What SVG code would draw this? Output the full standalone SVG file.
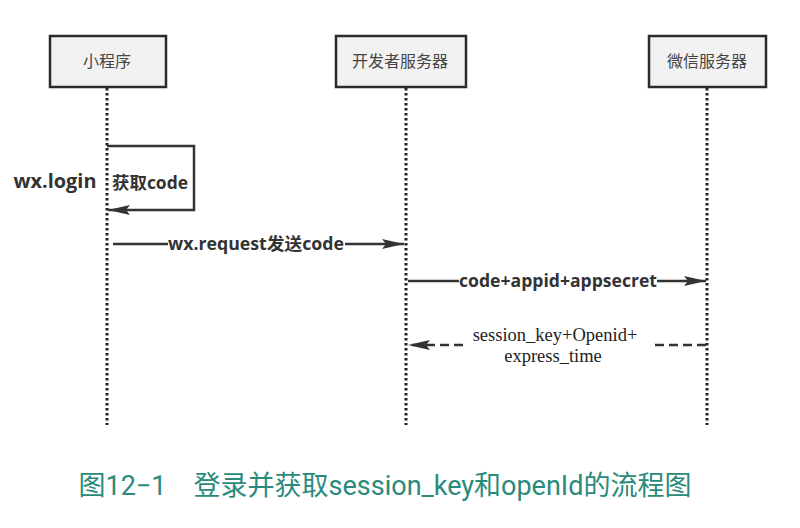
<svg xmlns="http://www.w3.org/2000/svg" width="800" height="528" viewBox="0 0 800 528">
<style>
.box{fill:#f2f2f2;stroke:#2b2b2b;stroke-width:2.5}
.bt{font-family:"Noto Sans CJK SC","Noto Sans",sans-serif;font-size:16px;fill:#444;text-anchor:middle}
.life{stroke:#222;stroke-width:3;stroke-dasharray:2.5,2.5;fill:none}
.msg{stroke:#333;stroke-width:2.5;fill:none}
.lb{font-family:"Open Sans","Noto Sans CJK SC",sans-serif;font-weight:bold;font-size:17px;fill:#333;text-anchor:middle}
.tl{font-family:"Liberation Serif","Noto Sans CJK SC",serif;font-size:18.5px;fill:#222;text-anchor:middle}
</style>
<defs>
<marker id="ah2" viewBox="0 0 22 12" refX="22" refY="6" markerWidth="22" markerHeight="12" markerUnits="userSpaceOnUse" orient="auto">
<path d="M0,1 L22,6 L0,11 L4,6 Z" fill="#333"/>
</marker>
</defs>
<rect width="800" height="528" fill="#fff"/>
<g id="n1">
<rect class="box" x="50" y="36" width="116" height="51"/>
<text class="bt" x="107" y="67">小程序</text>
</g>
<g id="n2">
<rect class="box" x="336" y="36" width="130" height="51"/>
<text class="bt" x="400" y="67">开发者服务器</text>
</g>
<g id="n3">
<rect class="box" x="649" y="36" width="117" height="51"/>
<text class="bt" x="707" y="67">微信服务器</text>
</g>
<g id="lifelines">
<line class="life" x1="107" y1="88" x2="107" y2="425"/>
<line class="life" x1="406" y1="88" x2="406" y2="425"/>
<line class="life" x1="707" y1="88" x2="707" y2="425"/>
</g>
<g id="connectors">
<polyline class="msg" points="107,146 194,146 194,210 108,210" marker-end="url(#ah2)"/>
<line class="msg" x1="113" y1="244" x2="168" y2="244"/>
<line class="msg" x1="345" y1="244" x2="404" y2="244" marker-end="url(#ah2)"/>
<line class="msg" x1="408" y1="281" x2="459" y2="281"/>
<line class="msg" x1="657" y1="281" x2="706" y2="281" marker-end="url(#ah2)"/>
<line class="msg" x1="463" y1="345" x2="408" y2="345" stroke-dasharray="9,5" marker-end="url(#ah2)"/>
<line class="msg" x1="706" y1="345" x2="652" y2="345" stroke-dasharray="9,5"/>
</g>
<g id="labels">
<text x="55" y="188" font-family="'Open Sans','Noto Sans',sans-serif" font-weight="bold" font-size="20" fill="#333" text-anchor="middle" textLength="83" lengthAdjust="spacingAndGlyphs">wx.login</text>
<text x="150" y="189" class="lb" textLength="76" lengthAdjust="spacingAndGlyphs">获取code</text>
<text x="256" y="250" class="lb" textLength="176" lengthAdjust="spacingAndGlyphs">wx.request发送code</text>
<text x="558" y="287" class="lb" textLength="198" lengthAdjust="spacingAndGlyphs">code+appid+appsecret</text>
<text x="555" y="341" class="tl">session_key+Openid+</text>
<text x="553" y="362" class="tl">express_time</text>
</g>
<text x="385" y="495" font-family="Roboto,'Noto Sans CJK SC',sans-serif" font-size="27" fill="#2a8a7b" text-anchor="middle">图12−1　登录并获取session_key和openId的流程图</text>
</svg>
